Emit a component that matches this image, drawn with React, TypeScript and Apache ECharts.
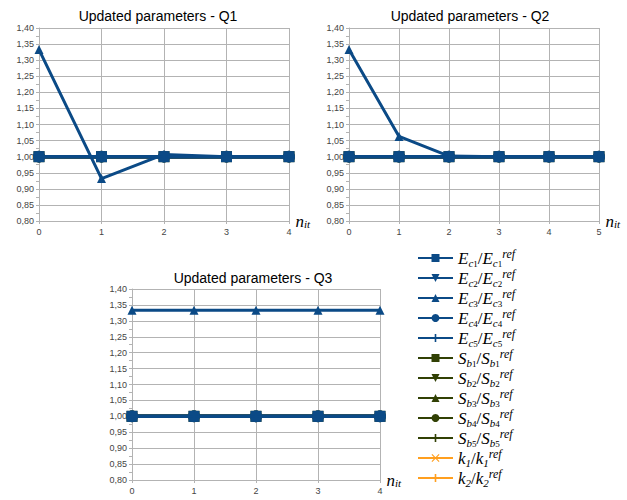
import React, { useEffect, useRef } from "react";
import * as echarts from "echarts";

// ---- data ----
const seriesNames = ["Ec1", "Ec2", "Ec3", "Ec4", "Ec5", "Sb1", "Sb2", "Sb3", "Sb4", "Sb5", "k1", "k2"];
const chartTitles = ["Updated parameters - Q1", "Updated parameters - Q2", "Updated parameters - Q3"];

const iterQ1 = [0, 1, 2, 3, 4];
const iterQ2 = [0, 1, 2, 3, 4, 5];
const iterQ3 = [0, 1, 2, 3, 4];

// Ec3 ratio (the only parameter that moves)
const ec3Q1 = [1.333, 0.932, 1.007, 1.0, 1.0];
const ec3Q2 = [1.333, 1.063, 1.002, 1.0, 1.0, 1.0];
const ec3Q3 = [1.333, 1.333, 1.333, 1.333, 1.333];

// every other ratio stays at its reference value
const restQ1 = [1.0, 1.0, 1.0, 1.0, 1.0];
const restQ2 = [1.0, 1.0, 1.0, 1.0, 1.0, 1.0];
const restQ3 = [1.0, 1.0, 1.0, 1.0, 1.0];

const yMin = 0.8;
const yMax = 1.4;
const yStep = 0.05;

// ---- styles ----
const BLUE = "#0b4a86";
const GREEN = "#314004";
const ORANGE = "#ff9f1f";
const GRID_COLOR = "#b3b3b3";

const PLUS = "path://M4,0H6V4H10V6H6V10H4V6H0V4H4Z";
const CROSS = "path://M1,0L5,4L9,0L10,1L6,5L10,9L9,10L5,6L1,10L0,9L4,5L0,1Z";

const styleFor = (name: string) => {
  const fam = name[0];
  const idx = name[name.length - 1];
  const color = fam === "E" ? BLUE : fam === "S" ? GREEN : ORANGE;
  const z = fam === "E" ? 5 : fam === "S" ? 4 : 3;
  let symbol = "circle";
  let symbolSize = 10;
  let symbolRotate = 0;
  if (fam === "k") {
    symbol = idx === "1" ? CROSS : PLUS;
    symbolSize = 10;
  } else if (idx === "1") {
    symbol = "rect";
    symbolSize = 11;
  } else if (idx === "2") {
    symbol = "triangle";
    symbolRotate = 180;
    symbolSize = 9;
  } else if (idx === "3") {
    symbol = "triangle";
    symbolSize = 9;
  } else if (idx === "4") {
    symbol = "circle";
    symbolSize = 12;
  } else {
    symbol = PLUS;
    symbolSize = 10;
  }
  return { color, z, symbol, symbolSize, symbolRotate };
};

const legendLabel = (name: string) => {
  const fam = name[0];
  const idx = name[name.length - 1];
  if (fam === "k") {
    return `{m|k}{s|${idx}}{u|/}{m|k}{s|${idx}}{p|ref}`;
  }
  const main = fam === "E" ? "E" : "S";
  const sub = fam === "E" ? "c" : "b";
  return `{m|${main}}{s|${sub}}{ss|${idx}}{u|/}{m|${main}}{s|${sub}}{ss|${idx}}{p|ref}`;
};

const mathFont = "Liberation Serif";
const richMath = {
  m: { fontFamily: mathFont, fontStyle: "italic", fontSize: 17, lineHeight: 20, color: "#000" },
  u: { fontFamily: mathFont, fontSize: 17, lineHeight: 20, color: "#000" },
  s: { fontFamily: mathFont, fontStyle: "italic", fontSize: 11, lineHeight: 9, verticalAlign: "bottom", color: "#000" },
  ss: { fontFamily: mathFont, fontSize: 9, lineHeight: 7, verticalAlign: "bottom", color: "#000" },
  p: { fontFamily: mathFont, fontStyle: "italic", fontSize: 12, lineHeight: 10, verticalAlign: "top", color: "#000" },
};

export default function App() {
  const ref = useRef<HTMLDivElement>(null);

  useEffect(() => {
    if (!ref.current) return;
    const chart = echarts.init(ref.current, undefined, { renderer: "svg" });

    const grids = [
      { left: 39, top: 28, width: 250, height: 193 },
      { left: 349, top: 28, width: 250, height: 193 },
      { left: 132, top: 289, width: 248, height: 191 },
    ];
    const iters = [iterQ1, iterQ2, iterQ3];
    const ec3 = [ec3Q1, ec3Q2, ec3Q3];
    const rest = [restQ1, restQ2, restQ3];
    const titlePos = [
      { left: 153, top: 4 },
      { left: 465, top: 4 },
      { left: 248, top: 266 },
    ];

    const xAxes = grids.map((_, g) => ({
      type: "value",
      gridIndex: g,
      min: iters[g][0],
      max: iters[g][iters[g].length - 1],
      interval: 1,
      name: "{n|n}{s|it}",
      nameLocation: "end",
      nameGap: 2,
      nameTextStyle: {
        rich: {
          n: { fontFamily: mathFont, fontStyle: "italic", fontSize: 17, color: "#000", lineHeight: 16 },
          s: { fontFamily: mathFont, fontStyle: "italic", fontSize: 11, color: "#000", lineHeight: 8, verticalAlign: "bottom" },
        },
      },
      axisLine: { show: true, onZero: false, lineStyle: { color: GRID_COLOR, width: 1 } },
      axisTick: { show: true, length: 3, lineStyle: { color: GRID_COLOR } },
      splitLine: { show: true, lineStyle: { color: GRID_COLOR, width: 1 } },
      axisLabel: { fontSize: 9, color: "#444", margin: 6, fontFamily: "Liberation Sans" },
    }));

    const yAxes = grids.map((_, g) => ({
      type: "value",
      gridIndex: g,
      min: yMin,
      max: yMax,
      interval: yStep,
      axisLine: { show: true, onZero: false, lineStyle: { color: GRID_COLOR, width: 1 } },
      axisTick: { show: true, length: 3, lineStyle: { color: GRID_COLOR } },
      minorTick: { show: true, splitNumber: 2, length: 3, lineStyle: { color: GRID_COLOR } },
      splitLine: { show: true, lineStyle: { color: GRID_COLOR, width: 1 } },
      axisLabel: {
        fontSize: 9,
        color: "#444",
        margin: 5,
        fontFamily: "Liberation Sans",
        formatter: (v: number) => v.toFixed(2).replace(".", ","),
      },
    }));

    const series: any[] = [];
    grids.forEach((_, g) => {
      seriesNames.forEach((name) => {
        const st = styleFor(name);
        const vals = name === "Ec3" ? ec3[g] : rest[g];
        series.push({
          type: "line",
          name,
          xAxisIndex: g,
          yAxisIndex: g,
          data: iters[g].map((x, i) => [x, vals[i]]),
          symbol: st.symbol,
          symbolSize: st.symbolSize,
          symbolRotate: st.symbolRotate,
          showAllSymbol: true,
          z: st.z,
          itemStyle: { color: st.color },
          lineStyle: { color: st.color, width: 3 },
          emphasis: { disabled: true },
        });
      });
    });

    chart.setOption({
      animation: false,
      backgroundColor: "#fff",
      title: chartTitles.map((t, g) => ({
        text: t,
        left: titlePos[g].left,
        top: titlePos[g].top,
        textAlign: "center",
        textStyle: { fontSize: 14, fontWeight: "normal", color: "#000", fontFamily: "Liberation Sans" },
      })),
      grid: grids,
      xAxis: xAxes,
      yAxis: yAxes,
      legend: {
        orient: "vertical",
        left: 412,
        top: 243,
        itemWidth: 35,
        itemHeight: 10,
        itemGap: 0,
        data: seriesNames,
        selectedMode: false,
        formatter: (name: string) => legendLabel(name),
        textStyle: { rich: richMath, padding: [0, 0, 0, 0] },
      },
      series,
    });

    return () => chart.dispose();
  }, []);

  return (
    <div
      ref={ref}
      style={{ position: "fixed", left: 0, top: 0, width: 627, height: 500 }}
    />
  );
}
